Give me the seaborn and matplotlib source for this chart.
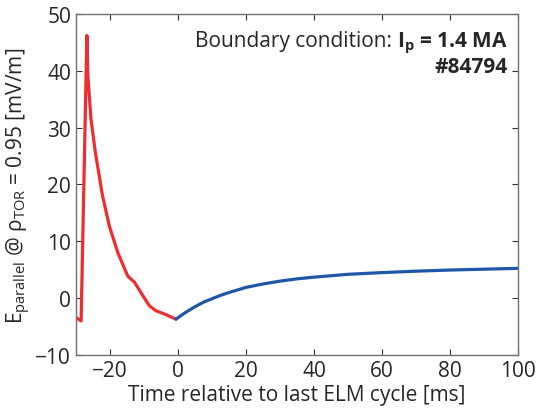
import matplotlib
matplotlib.use("Agg")
import matplotlib.pyplot as plt
from matplotlib.offsetbox import TextArea, HPacker, VPacker, AnchoredOffsetbox
import pandas as pd
import seaborn as sns

# Red segment: before the last ELM
t_before = [-30, -28.5, -26.8, -26.5, -25.6, -24.3, -22.2, -20.2, -17.7, -14.8,
            -12.8, -10.5, -8.4, -6.5, -3.5, -0.6]
e_before = [-3.4, -4.0, 46.2, 39.0, 31.5, 25.6, 18.0, 12.7, 8.0, 3.9,
            2.8, 0.6, -1.35, -2.2, -2.9, -3.7]

# Blue segment: after the last ELM
t_after = [-0.6, 1, 2.5, 5, 7.5, 10, 12.5, 15, 20, 25, 30, 35, 40, 50, 60, 70, 80, 90, 100]
e_after = [-3.7, -3.0, -2.4, -1.5, -0.7, -0.1, 0.5, 1.0, 1.9, 2.5, 3.0, 3.4, 3.7, 4.2, 4.5,
           4.75, 4.95, 5.1, 5.25]

x_ticks = [-20, 0, 20, 40, 60, 80, 100]
y_ticks = [-10, 0, 10, 20, 30, 40, 50]

sns.set_style("ticks")
plt.rcParams['font.family'] = ['Open Sans', 'DejaVu Sans']
plt.rcParams['mathtext.fontset'] = 'custom'
plt.rcParams['mathtext.rm'] = 'Open Sans'
plt.rcParams['mathtext.bf'] = 'Open Sans:bold'

df_before = pd.DataFrame({'t': t_before, 'E': e_before})
df_after = pd.DataFrame({'t': t_after, 'E': e_after})

fig = plt.figure(figsize=(5.41, 4.14), dpi=100)
ax = fig.add_axes([0.1405, 0.140, 0.817, 0.824])

sns.lineplot(data=df_before, x='t', y='E', color='#ee2d2f', linewidth=2.3, ax=ax, sort=False)
sns.lineplot(data=df_after, x='t', y='E', color='#1f56a8', linewidth=2.3, ax=ax, sort=False)

ax.set_xlim(-30, 100)
ax.set_ylim(-10, 50)
ax.set_xticks(x_ticks)
ax.set_yticks(y_ticks)
ax.tick_params(direction='in', top=True, right=True, length=4, labelsize=15, color='#333333')
for s in ax.spines.values():
    s.set_color('#707070')
    s.set_linewidth(1.0)

ax.set_xlabel("Time relative to last ELM cycle [ms]", fontsize=15, labelpad=2)
ax.set_ylabel(r"E$_{\mathrm{parallel}}$ @ ρ$_{\mathrm{TOR}}$ = 0.95 [mV/m]", fontsize=15, labelpad=2)

# annotation: normal + bold parts on a common baseline
t1 = TextArea("Boundary condition: ", textprops=dict(fontsize=15))
t2 = TextArea(r"I$_{\mathbf{p}}$ = 1.4 MA", textprops=dict(fontsize=15, fontweight='bold'))
line1 = HPacker(children=[t1, t2], align='baseline', pad=0, sep=0)
t3 = TextArea("#84794", textprops=dict(fontsize=15, fontweight='bold'))
box = VPacker(children=[line1, t3], align='right', pad=0, sep=1)
anch = AnchoredOffsetbox(loc='upper right', child=box, frameon=False,
                         bbox_to_anchor=(0.99, 0.97), bbox_transform=ax.transAxes, borderpad=0)
ax.add_artist(anch)

fig.savefig("out.png", dpi=100)
